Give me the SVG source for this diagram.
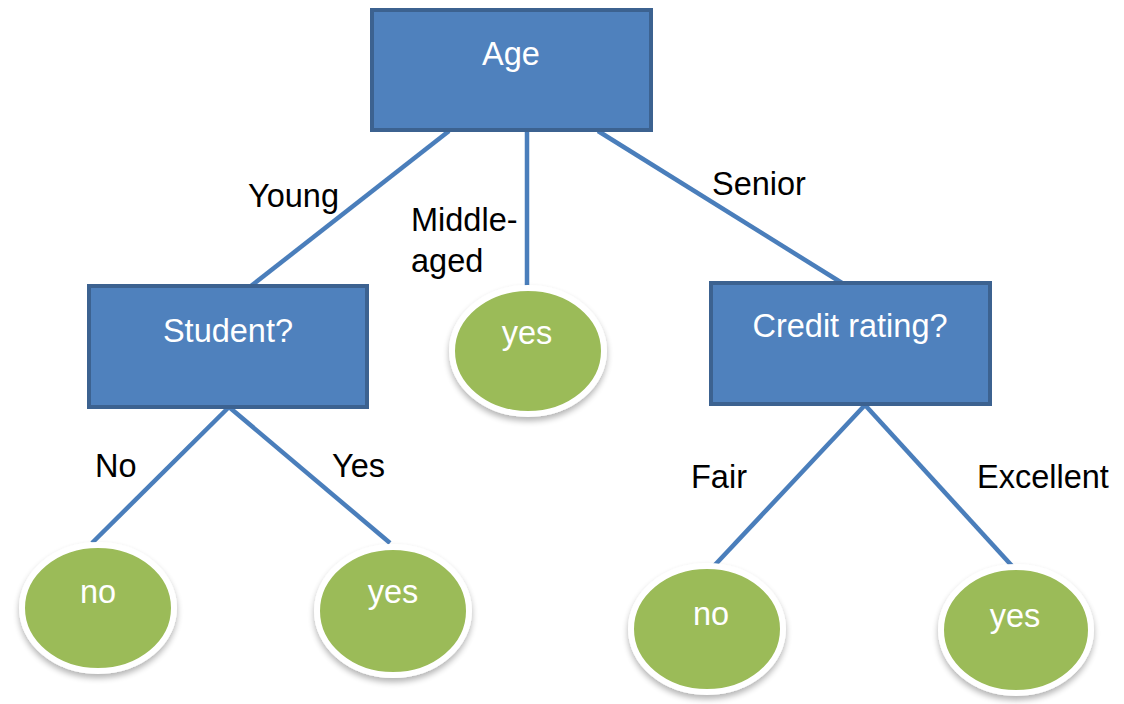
<svg xmlns="http://www.w3.org/2000/svg" width="1124" height="704" viewBox="0 0 1124 704">
<style>
.box{fill:#4f81bd;stroke:#3c6290;stroke-width:4}
.leaf{fill:#9bbb59;stroke:#ffffff;stroke-width:6;filter:url(#sh)}
.edge{stroke:#4a7ebb;stroke-width:4.5;fill:none}
.nt{font-family:"Liberation Sans",Arial,sans-serif;font-size:32.5px;fill:#ffffff;text-anchor:middle}
.lt{font-family:"Liberation Sans",Arial,sans-serif;font-size:32.5px;fill:#000000}
</style>
<defs>
<filter id="sh" x="-20%" y="-20%" width="140%" height="150%">
<feGaussianBlur in="SourceAlpha" stdDeviation="3"/>
<feOffset dx="0" dy="4" result="b"/>
<feComponentTransfer><feFuncA type="linear" slope="0.3"/></feComponentTransfer>
<feMerge><feMergeNode/><feMergeNode in="SourceGraphic"/></feMerge>
</filter>
</defs>
<rect width="1124" height="704" fill="#ffffff"/>
<g id="connectors">
<line class="edge" x1="449" y1="131" x2="251" y2="286"/>
<line class="edge" x1="527" y1="131" x2="527" y2="290"/>
<line class="edge" x1="598" y1="131" x2="842" y2="283"/>
<line class="edge" x1="229" y1="407" x2="92" y2="543"/>
<line class="edge" x1="229" y1="407" x2="390" y2="543"/>
<line class="edge" x1="865" y1="405" x2="713" y2="567"/>
<line class="edge" x1="865" y1="405" x2="1013" y2="567"/>
</g>
<g id="labels">
<text class="lt" x="248" y="207">Young</text>
<text class="lt" x="411" y="231">Middle-</text>
<text class="lt" x="411" y="272">aged</text>
<text class="lt" x="712" y="195">Senior</text>
<text class="lt" x="95" y="477">No</text>
<text class="lt" x="332" y="477">Yes</text>
<text class="lt" x="691" y="488">Fair</text>
<text class="lt" x="977" y="488">Excellent</text>
</g>
<g id="age">
<rect class="box" x="372" y="10" width="279" height="120"/>
<text class="nt" x="511" y="65">Age</text>
</g>
<g id="student">
<rect class="box" x="89" y="286" width="278" height="121"/>
<text class="nt" x="228" y="342">Student?</text>
</g>
<g id="credit">
<rect class="box" x="711" y="283" width="279" height="121"/>
<text class="nt" x="850" y="337">Credit rating?</text>
</g>
<g id="leaf-middle">
<ellipse class="leaf" cx="528" cy="351" rx="76" ry="63"/>
<text class="nt" x="527" y="344">yes</text>
</g>
<g id="leaf-no-student">
<ellipse class="leaf" cx="98" cy="608" rx="76" ry="63"/>
<text class="nt" x="98" y="603">no</text>
</g>
<g id="leaf-yes-student">
<ellipse class="leaf" cx="393" cy="611" rx="76" ry="64"/>
<text class="nt" x="393" y="603">yes</text>
</g>
<g id="leaf-no-credit">
<ellipse class="leaf" cx="707" cy="629" rx="76" ry="63"/>
<text class="nt" x="711" y="625">no</text>
</g>
<g id="leaf-yes-credit">
<ellipse class="leaf" cx="1016" cy="630" rx="75" ry="63"/>
<text class="nt" x="1015" y="627">yes</text>
</g>
</svg>
